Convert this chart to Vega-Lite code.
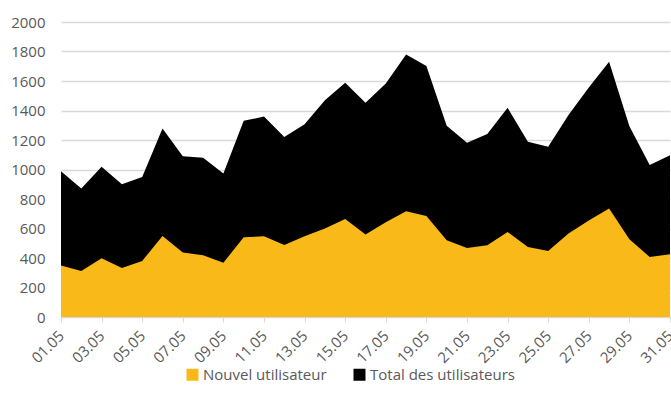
{
  "$schema": "https://vega.github.io/schema/vega-lite/v6.json",
  "width": 609,
  "height": 295,
  "autosize": {"type": "none"},
  "padding": {"left": 61, "top": 22, "right": 1, "bottom": 93},
  "config": {
    "font": "Open Sans",
    "view": {"stroke": null},
    "axis": {"labelColor": "#595959", "labelFont": "Open Sans", "labelFontSize": 14},
    "legend": {"labelColor": "#595959", "labelFont": "Open Sans", "labelFontSize": 15}
  },
  "datasets": {
    "d": [
      {"day": 1, "total": 988, "nouveaux": 350},
      {"day": 2, "total": 871, "nouveaux": 312},
      {"day": 3, "total": 1018, "nouveaux": 398},
      {"day": 4, "total": 900, "nouveaux": 332},
      {"day": 5, "total": 950, "nouveaux": 380},
      {"day": 6, "total": 1278, "nouveaux": 549},
      {"day": 7, "total": 1090, "nouveaux": 438},
      {"day": 8, "total": 1079, "nouveaux": 418},
      {"day": 9, "total": 973, "nouveaux": 368},
      {"day": 10, "total": 1330, "nouveaux": 540},
      {"day": 11, "total": 1359, "nouveaux": 547},
      {"day": 12, "total": 1221, "nouveaux": 488},
      {"day": 13, "total": 1307, "nouveaux": 547},
      {"day": 14, "total": 1470, "nouveaux": 600},
      {"day": 15, "total": 1588, "nouveaux": 665},
      {"day": 16, "total": 1452, "nouveaux": 559},
      {"day": 17, "total": 1583, "nouveaux": 642},
      {"day": 18, "total": 1780, "nouveaux": 717},
      {"day": 19, "total": 1701, "nouveaux": 685},
      {"day": 20, "total": 1296, "nouveaux": 520},
      {"day": 21, "total": 1181, "nouveaux": 468},
      {"day": 22, "total": 1240, "nouveaux": 486},
      {"day": 23, "total": 1418, "nouveaux": 577},
      {"day": 24, "total": 1188, "nouveaux": 475},
      {"day": 25, "total": 1154, "nouveaux": 448},
      {"day": 26, "total": 1369, "nouveaux": 566},
      {"day": 27, "total": 1556, "nouveaux": 654},
      {"day": 28, "total": 1730, "nouveaux": 735},
      {"day": 29, "total": 1294, "nouveaux": 527},
      {"day": 30, "total": 1031, "nouveaux": 407},
      {"day": 31, "total": 1097, "nouveaux": 425}
    ]
  },
  "data": {"name": "d"},
  "transform": [
    {"fold": ["total", "nouveaux"], "as": ["key", "value"]},
    {"calculate": "datum.key === 'total' ? 'Total des utilisateurs' : 'Nouvel utilisateur'", "as": "series"},
    {"calculate": "datum.key === 'total' ? 0 : 1", "as": "ord"}
  ],
  "mark": {"type": "area", "opacity": 1},
  "encoding": {
    "x": {
      "field": "day", "type": "quantitative",
      "scale": {"domain": [1, 31], "nice": false, "zero": false},
      "axis": {
        "title": null,
        "values": [1,3,5,7,9,11,13,15,17,19,21,23,25,27,29,31],
        "labelExpr": "(datum.value < 10 ? '0' : '') + datum.value + '.05'",
        "labelAngle": -45, "labelAlign": "right", "labelBaseline": "middle",
        "labelPadding": 11, "labelFontSize": 15,
        "grid": false,
        "domainColor": "#d9d9d9", "domainWidth": 1,
        "tickColor": "#d9d9d9", "tickSize": 5,
        "labelFlush": false, "labelOverlap": false
      }
    },
    "y": {
      "field": "value", "type": "quantitative",
      "stack": null,
      "scale": {"domain": [0, 2000], "nice": false},
      "axis": {
        "title": null, "format": "d",
        "values": [0,200,400,600,800,1000,1200,1400,1600,1800,2000],
        "domain": false, "ticks": false, "labelPadding": 16, "labelFontSize": 15,
        "gridColor": "#d9d9d9", "gridWidth": 1.5
      }
    },
    "color": {
      "field": "series", "type": "nominal",
      "scale": {"domain": ["Nouvel utilisateur", "Total des utilisateurs"], "range": ["#F9B918", "#000000"]},
      "legend": {
        "title": null, "orient": "none", "direction": "horizontal",
        "legendX": 124, "legendY": 345,
        "symbolType": "square", "symbolSize": 144, "symbolStrokeWidth": 0,
        "symbolOffset": 0, "labelOffset": 3,
        "columnPadding": 25, "labelLimit": 300
      }
    },
    "order": {"field": "ord"}
  }
}
